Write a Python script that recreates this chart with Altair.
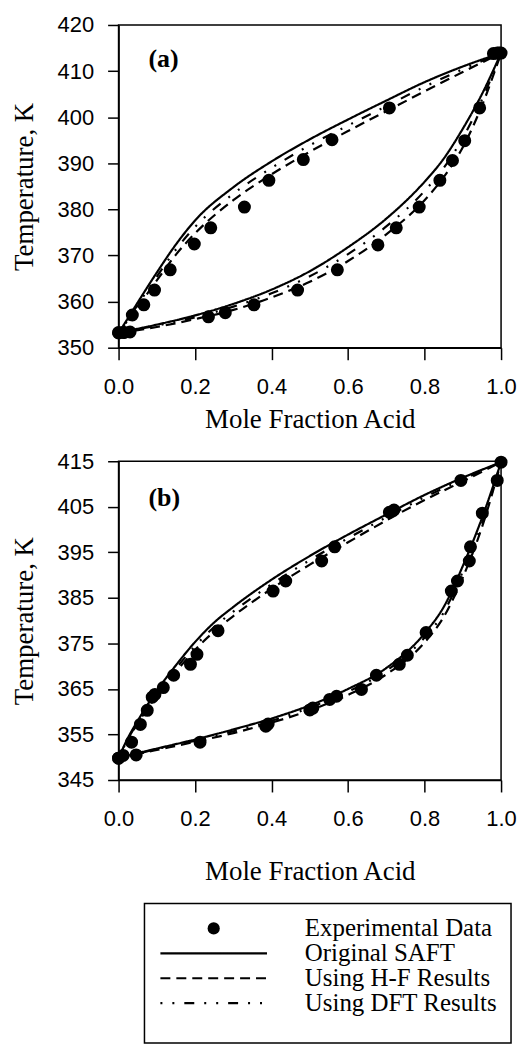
import altair as alt
import pandas as pd

SERIES = ["Experimental Data", "Original SAFT", "Using H-F Results", "Using DFT Results"]
DASHES = [[1, 0], [1, 0], [10, 6], [2, 10, 2, 10, 10, 10]]

# ---------------- panel (a) ----------------
a_vap_x = [0.0, 0.012, 0.036, 0.066, 0.094, 0.135, 0.198, 0.241, 0.329, 0.393, 0.483, 0.558, 0.708, 0.98, 0.995]
a_vap_T = [353.2, 353.3, 357.1, 359.3, 362.5, 366.9, 372.5, 376.0, 380.5, 386.3, 390.8, 395.1, 402.0, 413.8, 413.9]
a_liq_x = [0.0, 0.015, 0.03, 0.235, 0.279, 0.354, 0.468, 0.572, 0.678, 0.726, 0.786, 0.840, 0.873, 0.905, 0.944, 0.99, 1.0]
a_liq_T = [353.3, 353.3, 353.4, 356.7, 357.6, 359.3, 362.5, 366.9, 372.3, 376.0, 380.5, 386.3, 390.6, 394.9, 402.0, 413.9, 413.9]

a_up_x = [0, 0.02, 0.05, 0.1, 0.15, 0.2, 0.3, 0.4, 0.5, 0.6, 0.7, 0.8, 0.9, 1.0]
a_up_saft = [353.2, 355.8, 359.8, 366.3, 372.4, 377.6, 384.8, 390.4, 395.2, 399.5, 403.6, 407.6, 411.0, 413.9]
a_up_hf = [353.2, 355.3, 358.8, 364.6, 370.2, 374.8, 382.0, 387.6, 392.5, 397.0, 401.3, 405.6, 409.8, 413.9]
a_up_dft = [353.2, 355.5, 359.3, 365.4, 371.3, 376.2, 383.4, 389.0, 393.9, 398.2, 402.4, 406.6, 410.4, 413.9]

a_lo_x = [0, 0.05, 0.1, 0.2, 0.3, 0.4, 0.5, 0.6, 0.7, 0.8, 0.85, 0.9, 0.95, 1.0]
a_lo_saft = [353.2, 354.1, 355.0, 357.0, 359.5, 362.6, 366.6, 371.8, 378.0, 386.0, 391.0, 397.5, 405.0, 413.9]
a_lo_hf = [353.2, 353.8, 354.5, 356.2, 358.2, 360.9, 364.3, 368.8, 374.6, 382.0, 387.0, 393.5, 402.5, 413.9]
a_lo_dft = [353.2, 354.0, 354.8, 356.6, 358.9, 361.8, 365.5, 370.3, 376.3, 384.0, 389.0, 395.5, 403.8, 413.9]

# ---------------- panel (b) ----------------
b_vap_x = [0.0, 0.034, 0.057, 0.075, 0.088, 0.095, 0.117, 0.144, 0.188, 0.205, 0.26, 0.404, 0.437, 0.531, 0.565, 0.708, 0.72, 0.895, 1.0]
b_vap_T = [349.8, 353.3, 357.2, 360.3, 363.2, 363.8, 365.3, 368.0, 370.4, 372.6, 377.8, 386.5, 388.7, 393.1, 396.2, 403.8, 404.3, 410.8, 414.8]
b_liq_x = [0.0, 0.012, 0.046, 0.213, 0.385, 0.391, 0.50, 0.508, 0.552, 0.57, 0.635, 0.674, 0.734, 0.755, 0.804, 0.87, 0.886, 0.917, 0.92, 0.951, 0.99]
b_liq_T = [349.8, 350.4, 350.5, 353.3, 356.8, 357.3, 360.4, 360.8, 362.7, 363.4, 364.9, 368.0, 370.4, 372.4, 377.4, 386.5, 388.7, 393.1, 396.2, 403.6, 410.8]

b_up_x = [0, 0.02, 0.05, 0.1, 0.15, 0.2, 0.25, 0.3, 0.4, 0.5, 0.6, 0.7, 0.8, 0.9, 1.0]
b_up_saft = [349.8, 353.5, 358.0, 364.6, 370.2, 375.3, 379.6, 383.0, 389.0, 394.2, 398.9, 403.3, 407.6, 411.4, 414.8]
b_up_hf = [349.8, 353.2, 357.4, 363.6, 368.8, 373.6, 377.6, 381.0, 387.0, 392.3, 397.2, 402.0, 406.5, 410.6, 414.8]
b_up_dft = [349.8, 353.3, 357.7, 364.1, 369.5, 374.4, 378.6, 382.0, 388.0, 393.3, 398.1, 402.7, 407.1, 411.0, 414.8]

b_lo_x = [0, 0.05, 0.1, 0.2, 0.3, 0.4, 0.5, 0.6, 0.7, 0.8, 0.85, 0.9, 0.95, 1.0]
b_lo_saft = [349.8, 350.9, 351.9, 353.9, 356.1, 358.5, 361.4, 365.0, 369.6, 377.2, 383.0, 392.0, 402.5, 414.8]
b_lo_hf = [349.8, 350.7, 351.6, 353.4, 355.3, 357.6, 360.3, 363.7, 368.2, 375.2, 380.8, 389.5, 400.5, 414.8]
b_lo_dft = [349.8, 350.8, 351.8, 353.6, 355.7, 358.0, 360.9, 364.4, 369.0, 376.3, 381.8, 390.8, 401.3, 414.8]

panel_labels = ["(a)", "(b)"]
label_x = [0.078, 0.078]
label_T = [412.7, 406.9]

a_yticks = [350, 360, 370, 380, 390, 400, 410, 420]
b_yticks = [345, 355, 365, 375, 385, 395, 405, 415]
x_ticks = [0.0, 0.2, 0.4, 0.6, 0.8, 1.0]

SANS = "Liberation Sans"
SERIF = "Liberation Serif"


def exp_frame(vx, vT, lx, lT):
    return pd.DataFrame({"x": vx + lx, "T": vT + lT})


def model_frame(ux, ups, lx, los):
    rows = []
    for name, tu, tl in zip(SERIES[1:], ups, los):
        for x, t in zip(ux, tu):
            rows.append({"x": x, "T": t, "model": name, "branch": "vapor"})
        for x, t in zip(lx, tl):
            rows.append({"x": x, "T": t, "model": name, "branch": "liquid"})
    return pd.DataFrame(rows)


def x_axis(title_pad):
    return alt.Axis(values=x_ticks, format=".1f", title="Mole Fraction Acid", grid=False,
                    domainColor="black", domainWidth=1.5, tickColor="black", tickWidth=1.5,
                    tickSize=12, labelFont=SANS, labelFontSize=22, labelColor="black",
                    labelPadding=17, labelFlush=False, titleFont=SERIF, titleFontSize=27,
                    titleFontWeight="normal", titleColor="black", titlePadding=title_pad)


def y_axis(vals):
    return alt.Axis(values=vals, format="d", title="Temperature, K", grid=False,
                    domainColor="black", domainWidth=1.5, tickColor="black", tickWidth=1.5,
                    tickSize=11, labelFont=SANS, labelFontSize=22, labelColor="black",
                    labelPadding=14, labelFlush=False, titleFont=SERIF, titleFontSize=27,
                    titleFontWeight="normal", titleColor="black", titlePadding=19)


dash_scale = alt.Scale(domain=SERIES, range=DASHES)


def panel(exp_df, mod_df, idx, ydom, yvals, height, title_pad):
    x = alt.X("x:Q", scale=alt.Scale(domain=[0, 1], nice=False), axis=x_axis(title_pad))
    y = alt.Y("T:Q", scale=alt.Scale(domain=ydom, nice=False, zero=False), axis=y_axis(yvals))
    lines = alt.Chart(mod_df).mark_line(color="black", strokeWidth=2.2, clip=True,
                                        interpolate="monotone").encode(
        x=x, y=y,
        strokeDash=alt.StrokeDash("model:N", scale=dash_scale, legend=None),
        detail="branch:N",
    )
    pts = alt.Chart(exp_df).mark_circle(size=170, color="black", opacity=1).encode(x=x, y=y)
    lab_df = pd.DataFrame({"x": [label_x[idx]], "T": [label_T[idx]], "t": [panel_labels[idx]]})
    lab = alt.Chart(lab_df).mark_text(font=SERIF, fontSize=26, fontWeight="bold", align="left",
                                      baseline="middle", color="black").encode(x=x, y=y, text="t:N")
    return alt.layer(lines, pts, lab).properties(
        width=384, height=height, view=alt.ViewBackground(stroke="black", strokeWidth=1.5))


chart_a = panel(exp_frame(a_vap_x, a_vap_T, a_liq_x, a_liq_T),
                model_frame(a_up_x, [a_up_saft, a_up_hf, a_up_dft], a_lo_x, [a_lo_saft, a_lo_hf, a_lo_dft]),
                0, [350, 420], a_yticks, 324, 9)
chart_b = panel(exp_frame(b_vap_x, b_vap_T, b_liq_x, b_liq_T),
                model_frame(b_up_x, [b_up_saft, b_up_hf, b_up_dft], b_lo_x, [b_lo_saft, b_lo_hf, b_lo_dft]),
                1, [345, 415], b_yticks, 320, 29)

# ---------------- legend (drawn as its own small view) ----------------
leg_df = pd.DataFrame({"label": SERIES})
leg_y = alt.Y("label:N", sort=SERIES, axis=None,
              scale=alt.Scale(type="point", domain=SERIES, range=[25, 100], padding=0))
leg_box = alt.Chart(leg_df.head(1)).mark_rect(fill="white", stroke="black", strokeWidth=1.5).encode(
    x=alt.value(26), x2=alt.value(394), y=alt.value(0), y2=alt.value(140))
leg_lines = alt.Chart(leg_df).transform_filter(
    alt.FieldOneOfPredicate(field="label", oneOf=SERIES[1:])
).mark_rule(color="black", strokeWidth=2.2).encode(
    x=alt.value(42), x2=alt.value(149), y=leg_y,
    strokeDash=alt.StrokeDash("label:N", scale=dash_scale, legend=None))
leg_dot = alt.Chart(leg_df).transform_filter(
    alt.FieldEqualPredicate(field="label", equal=SERIES[0])
).mark_circle(size=150, color="black", opacity=1).encode(x=alt.value(95.5), y=leg_y)
leg_text = alt.Chart(leg_df).mark_text(font=SERIF, fontSize=25, align="left", baseline="middle",
                                       color="black").encode(x=alt.value(187), y=leg_y, text="label:N")
legend = alt.layer(leg_box, leg_lines, leg_dot, leg_text).properties(
    width=394, height=140, view=alt.ViewBackground(stroke="transparent"))

chart = alt.vconcat(chart_a, chart_b, legend, spacing=16).resolve_scale(
    strokeDash="independent"
).properties(
    padding={"left": 1, "top": 3, "right": 0, "bottom": 0}, background="white"
)

chart.save("out.html", embed_options={"renderer": "svg", "actions": False})
